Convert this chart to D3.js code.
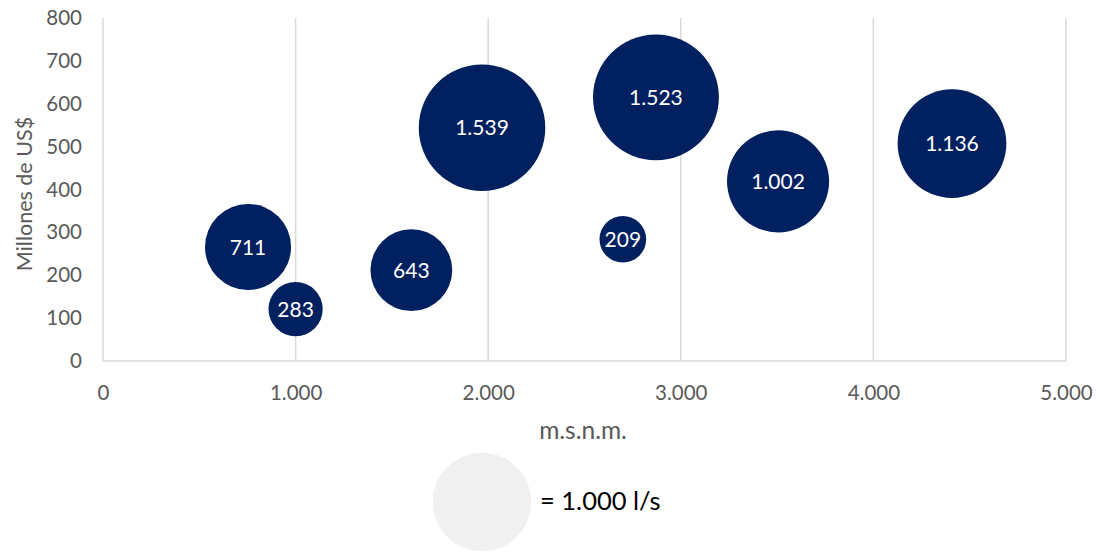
<!DOCTYPE html>
<html><head><meta charset="utf-8">
<script src="https://cdn.jsdelivr.net/npm/d3@7"></script>
<style>body{margin:0;background:#fff}svg{display:block}</style>
</head><body><svg id="c" width="1096" height="554"></svg>
<script>
const altitudes = [753, 1000, 1601, 1968, 2871, 2699, 3505, 4408];
const costs     = [266, 121, 212, 544, 615, 284, 419, 507];
const flows     = [711, 283, 643, 1539, 1523, 209, 1002, 1136];
const xTicks = [0, 1000, 2000, 3000, 4000, 5000];
const yTicks = [0, 100, 200, 300, 400, 500, 600, 700, 800];
const xTitle = "m.s.n.m.";
const yTitle = "Millones de US$";
const legendValue = 1000;
const legendText = "= 1.000 l/s";

const loc = d3.formatLocale({decimal: ",", thousands: ".", grouping: [3], currency: ["", ""]});
const fmt = loc.format(",d");

const svg = d3.select("#c");
const m = {l: 103, r: 30, t: 18, b: 193};
const W = 1096, H = 554;
const x = d3.scaleLinear().domain([0, 5000]).range([m.l, W - m.r]);
const y = d3.scaleLinear().domain([0, 800]).range([H - m.b, m.t]);
const r = d3.scaleSqrt().domain([0, 1000]).range([0, 51]);
const font = "Lato, 'Open Sans', sans-serif";
const grid = "#d9d9d9";

// vertical gridlines
svg.append("g").selectAll("line").data(xTicks.filter(d => d > 0)).join("line")
  .attr("x1", d => x(d)).attr("x2", d => x(d))
  .attr("y1", y(800)).attr("y2", y(0))
  .attr("stroke", grid).attr("stroke-width", 1.5);

// axes lines
svg.append("line").attr("x1", x(0)).attr("x2", x(0)).attr("y1", y(800)).attr("y2", y(0))
  .attr("stroke", grid).attr("stroke-width", 1.5);
svg.append("line").attr("x1", x(0)).attr("x2", x(5000)).attr("y1", y(0)).attr("y2", y(0))
  .attr("stroke", grid).attr("stroke-width", 1.5);

// x axis tick labels
const xa = svg.append("g").attr("transform", `translate(0,${y(0)})`)
  .call(d3.axisBottom(x).tickValues(xTicks).tickFormat(fmt).tickSize(0).tickPadding(24));
xa.select(".domain").remove();
xa.selectAll("text").attr("fill", "#595959").style("font-family", font).style("font-size", "20.5px");

// y axis tick labels
const ya = svg.append("g").attr("transform", `translate(${x(0)},0)`)
  .call(d3.axisLeft(y).tickValues(yTicks).tickFormat(fmt).tickSize(0).tickPadding(21));
ya.select(".domain").remove();
ya.selectAll("text").attr("fill", "#595959").style("font-family", font).style("font-size", "20.5px");

// titles
svg.append("text").attr("x", 583).attr("y", 439).attr("text-anchor", "middle")
  .attr("fill", "#595959").style("font-family", font).style("font-size", "24.5px").text(xTitle);
svg.append("text").attr("transform", `translate(32,194) rotate(-90)`)
  .attr("text-anchor", "middle").attr("fill", "#595959")
  .style("font-family", font).style("font-size", "21.5px").text(yTitle);

// bubbles
const data = flows.map((f, i) => ({x: altitudes[i], y: costs[i], f}));
const g = svg.append("g");
g.selectAll("circle").data(data).join("circle")
  .attr("cx", d => x(d.x)).attr("cy", d => y(d.y)).attr("r", d => r(d.f))
  .attr("fill", "#002060");
g.selectAll("text").data(data).join("text")
  .attr("x", d => x(d.x)).attr("y", d => y(d.y)).attr("dy", "0.36em")
  .attr("text-anchor", "middle").attr("fill", "#fff")
  .style("font-family", font).style("font-size", "21px").text(d => fmt(d.f));

// legend
svg.append("circle").attr("cx", 482).attr("cy", 502).attr("r", r(legendValue) * 0.965).attr("fill", "#f0f0f0");
svg.append("text").attr("x", 540).attr("y", 510).attr("fill", "#000")
  .style("font-family", font).style("font-size", "25.5px").text(legendText);
</script></body></html>
